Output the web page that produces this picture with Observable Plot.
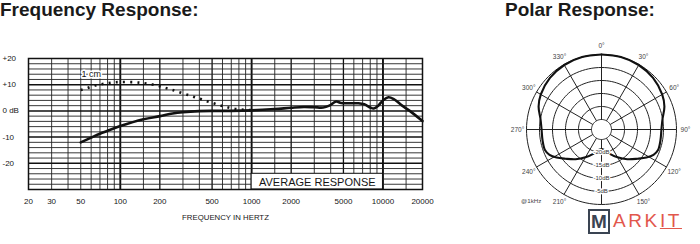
<!DOCTYPE html>
<html><head><meta charset="utf-8">
<script src="https://cdn.jsdelivr.net/npm/d3@7"></script>
<script src="https://cdn.jsdelivr.net/npm/@observablehq/plot@0.6"></script>
<style>
html,body{margin:0;padding:0;background:#fff;width:700px;height:244px;overflow:hidden;font-family:Arial,"Liberation Sans",sans-serif;}
#wrap{position:relative;width:700px;height:244px;}
.title{position:absolute;top:0;font-weight:bold;font-size:19px;line-height:1;color:#1a1a1a;white-space:nowrap;}
#freq{position:absolute;left:0;top:0;}
#polar{position:absolute;left:500px;top:0;}
#logo{position:absolute;left:585px;top:207px;height:28px;display:flex;align-items:center;background:#fff;padding:0 3px;}
#logo .m{display:inline-block;box-sizing:border-box;border:2.5px solid #3a4452;color:#3a4452;font-weight:bold;font-size:19px;line-height:19px;width:22px;height:25px;text-align:center;padding-top:1px;}
#logo .rest{color:#e2574c;font-size:19px;letter-spacing:2.6px;margin-left:3px;}
</style></head>
<body><div id="wrap">
<div id="freq"></div><div id="polar"></div>
<div class="title" style="left:0">Frequency Response:</div>
<div class="title" style="left:505px">Polar Response:</div>
<div id="logo"><span class="m">M</span><span class="rest">ARK<u>IT</u></span></div>
</div>
<script>
// ---------- Frequency response data ----------
const freqTicks = [20, 30, 50, 100, 200, 500, 1000, 2000, 5000, 10000, 20000];
const dbTicks = [20, 10, 0, -10, -20];
const dbTickLabels = ["+20", "+10", "0 dB", "-10", "-20"];
const minorFreqs = [30, 40, 50, 60, 70, 80, 90, 150, 300, 400, 600, 700, 800, 900, 1500, 3000, 4000, 6000, 7000, 8000, 9000, 15000];
const mediumFreqs = [200, 500, 2000, 5000];
const majorFreqs = [100, 1000, 10000];
const minorDb = [-28, -26, -24, -22, -18, -16, -14, -12, -8, -6, -4, -2, 2, 4, 6, 8, 12, 14, 16, 18];
const majorDb = [-20, -10, 0, 10];

// Average response (solid)
const avgFreq = [50, 60, 70, 80, 100, 150, 200, 250, 300, 400, 500, 700, 1000, 1500, 2000, 2500, 3000, 3500, 3900, 4400, 4800, 5500, 6500, 7200, 8000, 8500, 9200, 10000, 11000, 12000, 14000, 16000, 20000];
const avgDb   = [-12, -10.2, -8.7, -7.6, -5.8, -3.2, -2, -1, -0.5, -0.1, 0, 0, 0.2, 0.7, 1.2, 1.5, 1.4, 1.3, 2, 3.6, 3.0, 2.9, 2.9, 2.5, 1.3, 0.9, 2, 4, 5.2, 4.6, 2, 0, -3.9];
// 1 cm proximity response (dotted)
const nearFreq = [50, 56, 63, 72, 80, 90, 100, 120, 140, 160, 190, 220, 250, 300, 350, 400, 450, 500, 560, 620, 700, 800, 900, 1000];
const nearDb   = [8, 8.7, 9.6, 10.2, 10.6, 10.9, 11, 11, 10.8, 10.4, 9.7, 8.8, 8, 6.7, 5.6, 4.7, 3.8, 3.1, 2.3, 1.7, 1, 0.6, 0.4, 0.3];
const boxLabel = "AVERAGE RESPONSE";
const boxFreq = [1000, 10000];
const boxDb = [-30, -24];
const curveLabel = "1 cm";
const xTitle = "FREQUENCY IN HERTZ";

// ---------- Polar data ----------
const ringDb = [-25, -20, -15, -10, -5, 0];
const ringLabelDb = [-20, -15, -10, -5];
const ringLabels = ["-20dB", "-15dB", "-10dB", "-5dB"];
const spokeAngles = [0, 30, 60, 90, 120, 150, 180, 210, 240, 270, 300, 330];
const angleLabels = ["0°", "30°", "60°", "90°", "120°", "150°", "180°", "210°", "240°", "270°", "300°", "330°"];
const polarAngles = [0, 15, 30, 45, 60, 70, 80, 90, 100, 110, 116, 122, 129, 139, 150, 162, 172, 180,
                     188, 198, 210, 221, 231, 238, 244, 250, 260, 270, 280, 290, 300, 315, 330, 345, 360];
const polarDb = [0, 0, -0.2, -0.8, -1.9, -3.1, -5.0, -5.8, -5.8, -5.7, -6.6, -8.5, -11, -13.7, -16.5, -19.1, -20.9, -21.3,
                 -20.9, -19.1, -16.5, -13.7, -11, -8.5, -6.6, -5.7, -5.8, -5.8, -5.0, -3.1, -1.9, -0.8, -0.2, 0, 0];
const freqLabel = "@1kHz";

const FONT = 'Arial, "Liberation Sans", sans-serif';
const INK = "#151515";

// ---------- Frequency chart ----------
const avg = avgFreq.map((f, i) => ({f, db: avgDb[i]}));
const near = nearFreq.map((f, i) => ({f, db: nearDb[i]}));
const box = [{x1: boxFreq[0], x2: boxFreq[1], y1: boxDb[0], y2: boxDb[1]}];

const freqChart = Plot.plot({
  width: 440, height: 232,
  marginLeft: 28, marginRight: 18, marginTop: 58, marginBottom: 43,
  x: {type: "log", domain: [20, 20000], axis: null},
  y: {domain: [-30, 20], axis: null},
  style: {fontFamily: FONT, background: "transparent", color: INK},
  marks: [
    Plot.ruleX(minorFreqs, {stroke: "#222", strokeWidth: 0.9}),
    Plot.ruleX(mediumFreqs, {stroke: "#111", strokeWidth: 1.3}),
    Plot.ruleX(majorFreqs, {stroke: "#111", strokeWidth: 1.9}),
    Plot.ruleY(minorDb, {stroke: "#222", strokeWidth: 0.9}),
    Plot.ruleY(majorDb, {stroke: "#111", strokeWidth: 1.5}),
    Plot.rect(box, {x1: "x1", x2: "x2", y1: "y1", y2: "y2", fill: "white", stroke: "#111", strokeWidth: 1}),
    Plot.frame({stroke: "#111", strokeWidth: 1.5}),
    Plot.line(near, {x: "f", y: "db", stroke: "#111", strokeWidth: 2.6, strokeDasharray: "2,5.2", strokeLinecap: "butt", curve: "catmull-rom"}),
    Plot.line(avg, {x: "f", y: "db", stroke: "#111", strokeWidth: 2.6, curve: "catmull-rom"}),
    Plot.text([boxLabel], {x: Math.sqrt(boxFreq[0] * boxFreq[1]), y: (boxDb[0] + boxDb[1]) / 2, text: d => d, fontSize: 11, fill: INK, dy: 0.5}),
    Plot.text([curveLabel], {x: 60, y: 14, text: d => d, fontSize: 9, fill: INK, stroke: "white", strokeWidth: 3}),
    Plot.text(freqTicks, {x: d => d, frameAnchor: "bottom", dy: 14, text: d => String(d), fontSize: 8, fill: INK}),
    Plot.text(dbTicks, {y: d => d, frameAnchor: "left", dx: -26, textAnchor: "start", text: (d, i) => dbTickLabels[i], fontSize: 8, fill: INK}),
    Plot.text([xTitle], {frameAnchor: "bottom", dy: 30, text: d => d, fontSize: 7.8, fill: INK})
  ]
});
document.getElementById("freq").appendChild(freqChart);

// ---------- Polar chart ----------
const RU = 28.85;               // dB span from centre to the 0 dB ring
const rad = d => d * Math.PI / 180;
const px = (deg, u) => u * Math.sin(rad(deg));
const py = (deg, u) => u * Math.cos(rad(deg));

const ringPts = [];
ringDb.forEach(db => {
  for (let a = 0; a < 360; a += 3) ringPts.push({ring: db, x: px(a, db + RU), y: py(a, db + RU)});
});
const spokes = spokeAngles.map(a => ({
  x1: px(a, ringDb[0] + RU), y1: py(a, ringDb[0] + RU),
  x2: px(a, ringDb[ringDb.length - 1] + RU), y2: py(a, ringDb[ringDb.length - 1] + RU)
}));
const curvePts = [];
polarAngles.forEach((a, i) => {
  const p = {x: px(a, polarDb[i] + RU), y: py(a, polarDb[i] + RU)};
  if (a <= 180) curvePts.push({...p, side: "R"});
  if (a >= 180) curvePts.push({...p, side: "L"});
});
const labelU = 32.3;
const angleText = spokeAngles.map((a, i) => ({x: px(a, labelU), y: py(a, labelU), t: angleLabels[i]}));
const ringText = ringLabelDb.map((db, i) => ({x: px(180, db + RU), y: py(180, db + RU), t: ringLabels[i]}));

const polarChart = Plot.plot({
  width: 200, height: 244,
  marginLeft: 26, marginRight: 24, marginTop: 54, marginBottom: 40,
  x: {domain: [-RU, RU], axis: null},
  y: {domain: [-RU, RU], axis: null},
  style: {fontFamily: FONT, background: "transparent", color: INK},
  marks: [
    Plot.line(ringPts, {x: "x", y: "y", z: "ring", curve: "linear-closed", stroke: "#222", strokeWidth: 1}),
    Plot.link(spokes, {x1: "x1", y1: "y1", x2: "x2", y2: "y2", stroke: "#222", strokeWidth: 1}),
    Plot.line(curvePts, {x: "x", y: "y", z: "side", curve: "catmull-rom", stroke: "#111", strokeWidth: 2.1}),
    Plot.text(ringText, {x: "x", y: "y", text: "t", fontSize: 6, fill: "#333", stroke: "white", strokeWidth: 2.5}),
    Plot.text(angleText, {x: "x", y: "y", text: "t", fontSize: 6.5, fill: "#444"}),
    Plot.text([freqLabel], {frameAnchor: "bottom-left", dx: -5.5, dy: -2, text: d => d, fontSize: 6.2, fill: "#444"})
  ]
});
document.getElementById("polar").appendChild(polarChart);
</script>
</body></html>
